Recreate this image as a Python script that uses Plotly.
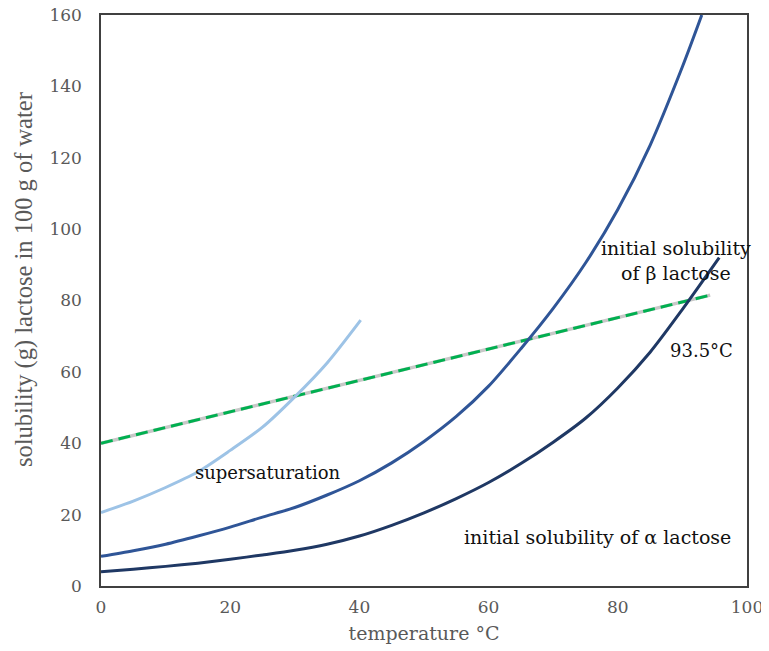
import plotly.graph_objects as go

# temperature (°C) and solubility (g lactose / 100 g water)
alpha_t = [0, 5, 10, 15, 20, 25, 30, 35, 40, 45, 50, 55, 60, 65, 70, 75, 80, 85, 90, 95.7]
alpha_s = [4.0, 4.7, 5.5, 6.4, 7.5, 8.7, 10.0, 11.7, 14.0, 17.0, 20.5, 24.5, 29.0, 34.3,
           40.3, 47.0, 55.5, 65.5, 77.5, 92.0]

beta_t = [0, 5, 10, 15, 20, 25, 30, 35, 40, 45, 50, 55, 60, 65, 70, 75, 80, 85, 90, 93]
beta_s = [8.3, 9.9, 11.7, 14.0, 16.5, 19.3, 22.0, 25.5, 29.5, 34.5, 40.5, 47.5, 56.0, 66.5,
          77.8, 90.5, 105.5, 123.5, 145.5, 160.0]

super_t = [0, 5, 10, 15, 20, 25, 30, 35, 40.2]
super_s = [20.6, 23.8, 27.6, 32.0, 38.0, 44.5, 53.0, 62.5, 74.5]

eq_t = [0, 94.3]
eq_s = [40.0, 81.5]

x_ticks = [0, 20, 40, 60, 80, 100]
y_ticks = [0, 20, 40, 60, 80, 100, 120, 140, 160]

SERIF = "DejaVu Serif, Liberation Serif, serif"
TIMES = "Liberation Serif, Times New Roman, serif"

fig = go.Figure()
fig.add_trace(go.Scatter(x=eq_t, y=eq_s, mode="lines",
                         line=dict(color="#c8c8c8", width=3.5), hoverinfo="skip"))
fig.add_trace(go.Scatter(x=eq_t, y=eq_s, mode="lines",
                         line=dict(color="#00b050", width=3, dash="12px,6px")))
fig.add_trace(go.Scatter(x=super_t, y=super_s, mode="lines", line_shape="spline",
                         line=dict(color="#9dc3e6", width=3, smoothing=0.8)))
fig.add_trace(go.Scatter(x=beta_t, y=beta_s, mode="lines", line_shape="spline",
                         line=dict(color="#2f5597", width=3, smoothing=0.8)))
fig.add_trace(go.Scatter(x=alpha_t, y=alpha_s, mode="lines", line_shape="spline",
                         line=dict(color="#1f3864", width=3, smoothing=0.8)))

font_a = dict(family=SERIF, size=18, color="#111111")
font_b = dict(family=SERIF, size=19, color="#111111")
fig.add_annotation(x=25.9, y=31.7, text="supersaturation", showarrow=False, font=font_a)
fig.add_annotation(x=89.0, y=91.3, text="initial solubility<br>of β lactose", showarrow=False,
                   font=font_b)
fig.add_annotation(x=92.9, y=66.1, text="93.5°C", showarrow=False, font=font_a)
fig.add_annotation(x=76.9, y=13.7, text="initial solubility of α lactose", showarrow=False,
                   font=font_b)

# y-axis title (placed as rotated text, slightly above the plot centre as in the original)
fig.add_annotation(xref="paper", yref="paper", x=-0.119, y=0.536,
                   text="solubility (g) lactose in 100 g of water", textangle=-90,
                   showarrow=False, xanchor="center", yanchor="middle",
                   font=dict(family=TIMES, size=24.5, color="#595959"))

axis_common = dict(showgrid=False, zeroline=False, showline=True, linecolor="#404040",
                   linewidth=1.5, mirror=True, ticks="", automargin=False,
                   ticklabeloverflow="allow",
                   tickfont=dict(family=SERIF, size=17, color="#595959"))

# the page body adds an 8px offset, so the figure is sized to fit the window
fig.update_layout(
    width=761, height=643,
    margin=dict(l=93, r=22, t=7, b=65),
    paper_bgcolor="white", plot_bgcolor="white",
    showlegend=False,
    xaxis=dict(range=[0, 100], tickvals=x_ticks,
               title=dict(text="temperature °C", standoff=11,
                          font=dict(family=SERIF, size=19, color="#595959")),
               ticklabelstandoff=5, **axis_common),
    yaxis=dict(range=[0, 160], tickvals=y_ticks,
               ticklabelstandoff=14, **axis_common),
)

fig.write_html("out.html")
